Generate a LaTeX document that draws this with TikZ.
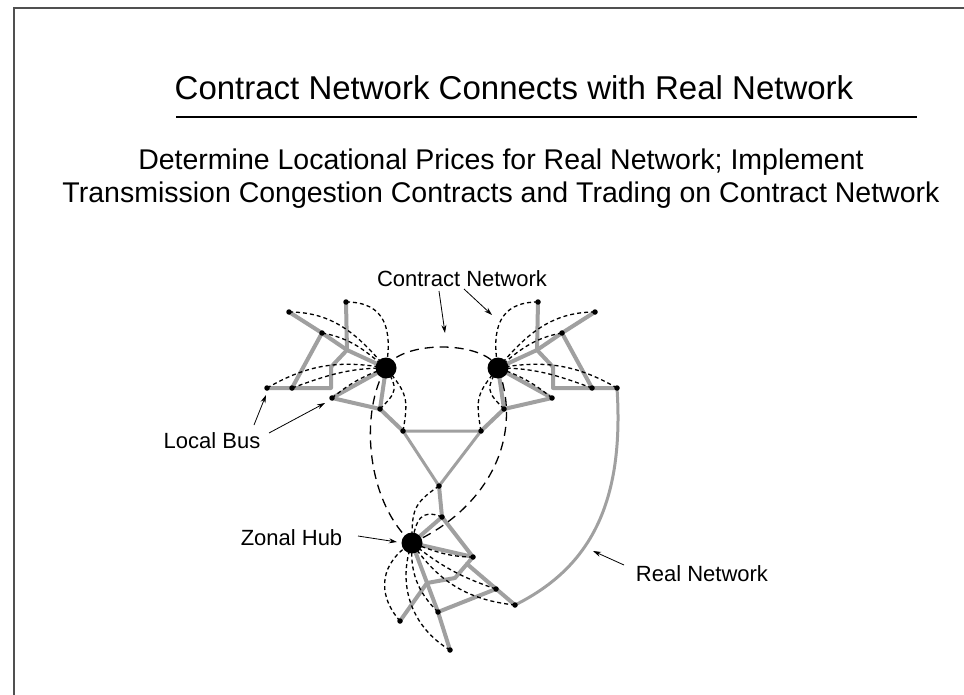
\documentclass[tikz,border=0pt]{standalone}
\usepackage{fontspec}
\setmainfont{Liberation Sans}
\usetikzlibrary{arrows.meta}
\pgfdeclarelayer{bg}
\pgfsetlayers{bg,main}
\definecolor{netgray}{HTML}{A0A0A0}
\definecolor{framegray}{HTML}{505050}
\begin{document}
\begin{tikzpicture}[x=1pt,y=-1pt,
  dot/.style={circle,fill=black,inner sep=0pt,minimum size=5.5pt},
  hubdot/.style={circle,fill=black,inner sep=0pt,minimum size=21pt},
  link/.style={line width=4pt,draw=netgray,line join=round,line cap=round},
  trilink/.style={line width=3pt,draw=netgray,line join=round},
  local/.style={line width=1.3pt,dash pattern=on 4pt off 3pt},
  zonal/.style={line width=1.3pt,dash pattern=on 9pt off 6pt},
  lbl/.style={font=\fontsize{22}{26}\selectfont,anchor=base,inner sep=0pt},
  pointer/.style={line width=0.8pt,-{Stealth[length=8pt,width=5pt]}}]
\useasboundingbox (0,0) rectangle (964,695);
% frame
\draw[line width=2pt,framegray] (14,705) -- (14,8) -- (975,8);
% title
\node[font=\fontsize{33}{40}\selectfont,anchor=base,inner sep=0pt] (title) at (514,100) {Contract Network Connects with Real Network};
\coordinate (ulA) at (176,117);
\coordinate (ulB) at (917,117);
\draw[line width=2.5pt] (ulA) -- (ulB);
\node[font=\fontsize{28.5}{34}\selectfont,anchor=base,inner sep=0pt] (sub1) at (501,170) {Determine Locational Prices for Real Network; Implement};
\node[font=\fontsize{28.5}{34}\selectfont,anchor=base,inner sep=0pt] (sub2) at (501,203) {Transmission Congestion Contracts and Trading on Contract Network};
% hubs
\node[hubdot] (h1) at (386,368) {};
\node[hubdot] (h2) at (498,368) {};
\node[hubdot] (h3) at (412,543) {};
% upper-left local buses
\node[dot] (la) at (346,302) {};
\node[dot] (lb) at (289,312) {};
\node[dot] (lc) at (322,333) {};
\node[dot] (lm) at (292,388) {};
\node[dot] (ln) at (267,388) {};
\node[dot] (lp) at (332,398) {};
\node[dot] (lq) at (380,409) {};
\node[dot] (lr) at (403,431) {};
\coordinate (lj) at (347,350);
\coordinate (lk) at (331,367);
\coordinate (ll) at (331,388);
% upper-right local buses
\node[dot] (ra) at (538,302) {};
\node[dot] (rb) at (595,312) {};
\node[dot] (rc) at (562,333) {};
\node[dot] (rm) at (592,388) {};
\node[dot] (rn) at (617,388) {};
\node[dot] (rp) at (552,398) {};
\node[dot] (rq) at (504,409) {};
\node[dot] (rr) at (481,431) {};
\coordinate (rj) at (537,350);
\coordinate (rk) at (553,367);
\coordinate (rl) at (553,388);
% bottom local buses
\node[dot] (za) at (439,486) {};
\node[dot] (zb) at (442,517) {};
\node[dot] (zc) at (473,557) {};
\node[dot] (zd) at (496,589) {};
\node[dot] (ze) at (515,605) {};
\node[dot] (zf) at (438,612) {};
\node[dot] (zg) at (450,650) {};
\node[dot] (zh) at (400,621) {};
\coordinate (zj1) at (455,578);
\coordinate (zj2) at (427,583);
\coordinate (zj3) at (467,564);
\begin{pgfonlayer}{bg}
% real network (gray)
\draw[link] (la.center) -- (lj);
\draw[link] (lb.center) -- (lc.center) -- (lj) -- (h1.center);
\draw[link] (lj) -- (lk) -- (ll) -- (lm.center) -- (ln.center);
\draw[link] (lc.center) -- (lm.center);
\draw[link] (lp.center) -- (h1.center);
\draw[link] (lp.center) -- (lq.center) -- (lr.center);
\draw[link] (h1.center) -- (lq.center);
\draw[link] (ra.center) -- (rj);
\draw[link] (rb.center) -- (rc.center) -- (rj) -- (h2.center);
\draw[link] (rj) -- (rk) -- (rl) -- (rm.center) -- (rn.center);
\draw[link] (rc.center) -- (rm.center);
\draw[link] (rp.center) -- (h2.center);
\draw[link] (rp.center) -- (rq.center) -- (rr.center);
\draw[link] (h2.center) -- (rq.center);
\draw[trilink] (lr.center) -- (rr.center) -- (za.center) -- cycle;
\draw[link] (za.center) -- (zb.center) -- (h3.center);
\draw[link] (zb.center) -- (zc.center) -- (h3.center);
\draw[link] (zc.center) -- (zj1) -- (zj2);
\draw[link] (zj3) -- (ze.center);
\draw[link] (zj2) -- (zh.center);
\draw[link] (h3.center) -- (zf.center) -- (zg.center);
\draw[link] (zf.center) -- (zd.center);
\draw[trilink] (rn.center) .. controls (625,510) and (585,570) .. (ze.center);
% contract network: local links
\draw[local] (la.center) to[out=0,in=80,looseness=1.3] (h1.center);
\draw[local] (lb.center) to[out=0,in=130] (h1.center);
\draw[local] (lc.center) to[out=-10,in=140] (h1.center);
\draw[local] (ln.center) to[out=30,in=170] (h1.center);
\draw[local] (lm.center) to[out=20,in=180] (h1.center);
\draw[local] (lp.center) to[out=39,in=199] (h1.center);
\draw[local] (lq.center) to[out=45,in=-60,looseness=1.5] (h1.center);
\draw[local] (lr.center) to[out=80,in=-50,looseness=1.3] (h1.center);
\draw[local] (ra.center) to[out=180,in=100,looseness=1.3] (h2.center);
\draw[local] (rb.center) to[out=180,in=50] (h2.center);
\draw[local] (rc.center) to[out=190,in=40] (h2.center);
\draw[local] (rn.center) to[out=150,in=10] (h2.center);
\draw[local] (rm.center) to[out=160,in=0] (h2.center);
\draw[local] (rp.center) to[out=141,in=-19] (h2.center);
\draw[local] (rq.center) to[out=135,in=240,looseness=1.5] (h2.center);
\draw[local] (rr.center) to[out=100,in=230,looseness=1.3] (h2.center);
\draw[local] (za.center) to[out=214,in=90,looseness=1.3] (h3.center);
\draw[local] (zb.center) to[out=158,in=80,looseness=1.5] (h3.center);
\draw[local] (zc.center) to[out=180,in=-20] (h3.center);
\draw[local] (zd.center) to[bend left=10] (h3.center);
\draw[local] (ze.center) to[bend left=25] (h3.center);
\draw[local] (zf.center) to[bend left=25] (h3.center);
\draw[local] (zg.center) to[bend left=40] (h3.center);
\draw[local] (zh.center) to[bend left=50,looseness=1.2] (h3.center);
% contract network: zonal links
\draw[zonal] (h1.center) .. controls (400,340) and (484,340) .. (h2.center);
\draw[zonal] (h1.center) .. controls (360,410) and (365,500) .. (h3.center);
\draw[zonal] (h2.center) .. controls (525,440) and (485,510) .. (h3.center);
\end{pgfonlayer}
% labels
\node[lbl] (cn) at (462,286) {Contract Network};
\node[lbl] (lbus) at (212,448) {Local Bus};
\node[lbl] (zhub) at (291.5,545) {Zonal Hub};
\node[lbl] (rnet) at (702,581) {Real Network};
\coordinate (cn1s) at (439,291);
\coordinate (cn1e) at (445,333);
\coordinate (cn2s) at (464,289);
\coordinate (cn2e) at (492,315);
\coordinate (lb1s) at (254,425);
\coordinate (lb1e) at (266,395);
\coordinate (lb2s) at (269,433);
\coordinate (lb2e) at (325,403);
\coordinate (zh1s) at (358,536);
\coordinate (zh1e) at (397,542);
\coordinate (rn1s) at (624,565);
\coordinate (rn1e) at (593,551);
\draw[pointer] (cn1s) -- (cn1e);
\draw[pointer] (cn2s) -- (cn2e);
\draw[pointer] (lb1s) -- (lb1e);
\draw[pointer] (lb2s) -- (lb2e);
\draw[pointer] (zh1s) -- (zh1e);
\draw[pointer] (rn1s) -- (rn1e);
\end{tikzpicture}
\end{document}
